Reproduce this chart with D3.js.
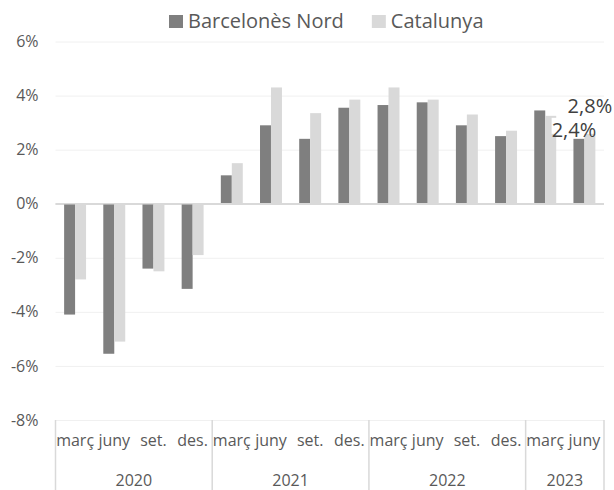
<!DOCTYPE html>
<html><head><meta charset="utf-8">
<script src="https://cdn.jsdelivr.net/npm/d3@7"></script>
<style>body{margin:0;background:#fff}svg{display:block}</style>
</head><body>
<svg id="c" width="614" height="490"></svg>
<script>
const years = ["2020","2020","2020","2020","2021","2021","2021","2021","2022","2022","2022","2022","2023","2023"];
const quarters = ["març","juny","set.","des.","març","juny","set.","des.","març","juny","set.","des.","març","juny"];
const barcelonesNord = [-4.1,-5.55,-2.4,-3.15,1.05,2.9,2.4,3.55,3.65,3.75,2.9,2.5,3.45,2.4];
const catalunya = [-2.8,-5.1,-2.5,-1.9,1.5,4.3,3.35,3.85,4.3,3.85,3.3,2.7,3.25,2.8];
const yTicks = [-8,-6,-4,-2,0,2,4,6];
const seriesNames = ["Barcelonès Nord","Catalunya"];
const seriesColors = ["#7f7f7f","#d9d9d9"];

const FONT = "'Open Sans', sans-serif";
const svg = d3.select("#c");
const L = 55.5, R = 604, T = 41.5, B = 420;
const idx = d3.range(quarters.length);
const series = [barcelonesNord, catalunya];

const x = d3.scaleBand().domain(idx).range([L, R]).paddingInner(0.44).paddingOuter(0.22);
const xs = d3.scaleBand().domain([0,1]).range([0, x.bandwidth()]);
const y = d3.scaleLinear().domain([-8, 6]).range([B, T]);

// gridlines
const grid = svg.append("g").attr("transform", `translate(${L},0)`)
  .call(d3.axisLeft(y).tickValues(yTicks).tickSize(-(R - L)).tickFormat(""));
grid.select(".domain").remove();
grid.selectAll("line").attr("stroke", d => d === 0 ? "#d9d9d9" : "#f0f0f0")
  .attr("stroke-width", d => d === 0 ? 1.5 : 1);

// y labels
const ya = svg.append("g").attr("transform", `translate(${L},0)`)
  .call(d3.axisLeft(y).tickValues(yTicks).tickSize(0).tickPadding(17).tickFormat(d => d + "%"));
ya.select(".domain").remove();
ya.selectAll("text").attr("font-family", FONT).attr("font-size", 16).attr("fill", "#595959");

// bars
series.forEach((vals, s) => {
  svg.append("g").selectAll("rect").data(vals).join("rect")
    .attr("x", (d, i) => x(i) + xs(s))
    .attr("width", xs.bandwidth())
    .attr("y", d => y(Math.max(0, d)))
    .attr("height", d => Math.abs(y(d) - y(0)))
    .attr("fill", seriesColors[s]);
});

// zero line on top
svg.append("line").attr("x1", L).attr("x2", R).attr("y1", y(0)).attr("y2", y(0))
  .attr("stroke", "#d9d9d9").attr("stroke-width", 1.5);

// category axis
const xa = svg.append("g").attr("transform", `translate(0,${B})`)
  .call(d3.axisBottom(x).tickSize(0).tickPadding(15).tickFormat(i => quarters[i]));
xa.select(".domain").remove();
xa.selectAll("text").attr("font-family", FONT).attr("font-size", 16).attr("fill", "#595959");

// year groups
const groups = [];
years.forEach((yr, i) => {
  if (!groups.length || groups[groups.length - 1].year !== yr) groups.push({year: yr, start: i, end: i});
  else groups[groups.length - 1].end = i;
});
const step = x.step();
const bx = i => L + i * step;
const bounds = [0].concat(groups.map(g => g.end + 1));
svg.append("g").selectAll("line").data(bounds).join("line")
  .attr("x1", d => bx(d)).attr("x2", d => bx(d))
  .attr("y1", B).attr("y2", 490)
  .attr("stroke", "#d9d9d9").attr("stroke-width", 1.5);
svg.append("g").selectAll("text").data(groups).join("text")
  .attr("x", g => (bx(g.start) + bx(g.end + 1)) / 2)
  .attr("y", 486)
  .attr("text-anchor", "middle")
  .attr("font-family", FONT).attr("font-size", 16).attr("fill", "#595959")
  .text(g => g.year);

// data labels for last period
const last = quarters.length - 1;
const lab = svg.append("g");
lab.append("text")
  .attr("x", x(last) + xs(1) + xs.bandwidth() / 2)
  .attr("y", y(catalunya[last]) - 15)
  .attr("text-anchor", "middle")
  .attr("font-family", FONT).attr("font-size", 20).attr("fill", "#404040")
  .text(d3.format(".1f")(catalunya[last]).replace(".", ",") + "%");
const g1 = lab.append("g");
const t1y = y(barcelonesNord[last]) - 2;
const t1 = g1.append("text")
  .attr("x", x(last) + xs(0) + xs.bandwidth() / 2 - 5)
  .attr("y", t1y)
  .attr("text-anchor", "middle")
  .attr("font-family", FONT).attr("font-size", 20).attr("fill", "#404040")
  .text(d3.format(".1f")(barcelonesNord[last]).replace(".", ",") + "%");
const bb = t1.node().getBBox();
g1.insert("rect", "text").attr("x", bb.x).attr("y", bb.y + 2)
  .attr("width", bb.width).attr("height", (t1y - 3) - (bb.y + 2)).attr("fill", "#fff");

// legend
const leg = svg.append("g");
let lx = 169;
seriesNames.forEach((n, s) => {
  leg.append("rect").attr("x", lx).attr("y", 15).attr("width", 14).attr("height", 13).attr("fill", seriesColors[s]);
  const t = leg.append("text").attr("x", lx + 19).attr("y", 28)
    .attr("font-family", FONT).attr("font-size", 20).attr("fill", "#595959").text(n);
  lx += 19 + t.node().getComputedTextLength() + 28;
});
</script>
</body></html>
